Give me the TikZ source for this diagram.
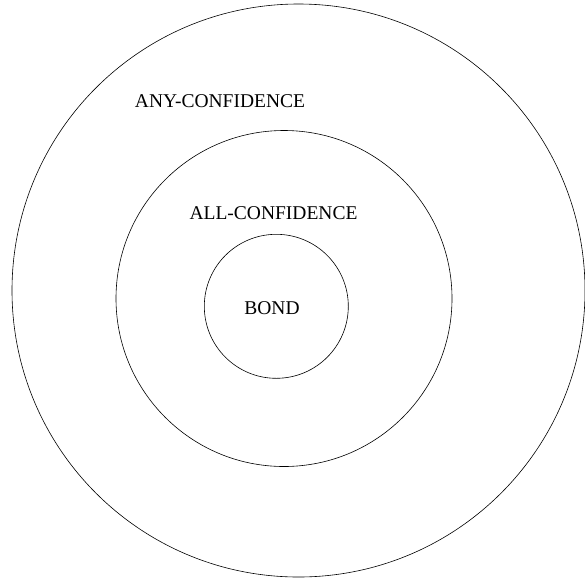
\documentclass[tikz,border=0pt]{standalone}
\usepackage{fontspec}
\setmainfont{Liberation Serif}
\usepackage{tikz}
\usetikzlibrary{positioning}

\tikzset{
  ring/.style={draw, circle, inner sep=0pt, line width=0.6pt},
  ringlabel/.style={font=\fontsize{19.5}{23}\selectfont, inner sep=0pt}
}

\begin{document}
\begin{tikzpicture}[x=1pt, y=-1pt]
				\useasboundingbox (0,0) rectangle (585,579);
				% the three rings
				\node[ring, minimum size=573pt] (anyring) at (298.5,290.5) {};
				\node[ring, minimum size=336pt] (allring) at (284,298.5) {};
				\node[ring, minimum size=144pt] (bondring) at (276.3,306.3) {};
				% labels
				\node[ringlabel] (anylabel) at (220,101.5) {ANY-CONFIDENCE};
				\node[ringlabel] (alllabel) at (273.5,213) {ALL-CONFIDENCE};
				\node[ringlabel] (bondlabel) at (272,308.5) {BOND};
			\end{tikzpicture}
\end{document}
